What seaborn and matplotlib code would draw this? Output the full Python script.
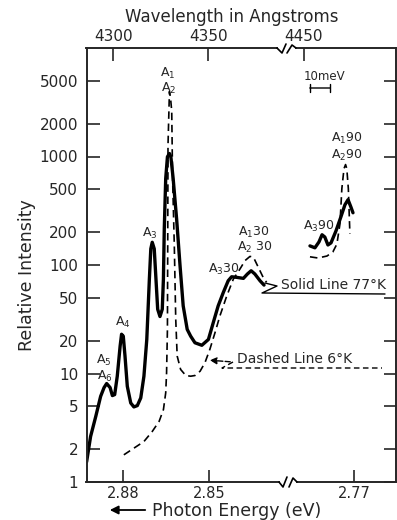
import numpy as np
import pandas as pd
import matplotlib
matplotlib.use("Agg")
import matplotlib.pyplot as plt
from matplotlib.lines import Line2D
from matplotlib.ticker import NullLocator
import seaborn as sns

# ---------------- data ----------------
energy_77k_main = [2.8927, 2.8913, 2.8895, 2.8878, 2.8866, 2.8857, 2.8845, 2.8837, 2.8829, 2.8820,
                   2.8810, 2.8805, 2.8799, 2.8793, 2.8785, 2.8773, 2.8762, 2.8750, 2.8738, 2.8727,
                   2.8717, 2.8712, 2.8708, 2.8703, 2.8698, 2.8691, 2.8685, 2.8679, 2.8671, 2.8663,
                   2.8659, 2.8656, 2.8651, 2.8645, 2.8638, 2.8633, 2.8625, 2.8613, 2.8601, 2.8590,
                   2.8576, 2.8564, 2.8549, 2.8525, 2.8502, 2.8485, 2.8468, 2.8450, 2.8433, 2.8421,
                   2.8403, 2.8380, 2.8366, 2.8353, 2.8340, 2.8322, 2.8308]
intensity_77k_main = [1.53, 2.63, 4.02, 6.16, 7.42, 8.08, 7.42, 6.26, 6.39, 9.44,
                      17.9, 23.0, 22.1, 14.5, 7.63, 5.35, 4.92, 5.06, 5.96, 9.44,
                      20.6, 42.0, 74.2, 141, 162, 141, 74.2, 39.1, 33.5, 39.1,
                      74.2, 215, 626, 993, 1066, 993, 626, 267, 98.6, 42.0,
                      25.5, 22.1, 19.2, 18.2, 20.6, 29.5, 42.0, 55.9, 71.6, 77.9,
                      76.9, 75.3, 82.6, 88.5, 82.6, 71.6, 65.3]

energy_6k_main = [2.8797, 2.8762, 2.8727, 2.8698, 2.8674, 2.8659, 2.8651, 2.8648, 2.8645, 2.8644,
                  2.8643, 2.8638, 2.8634, 2.8630, 2.8627, 2.8621, 2.8616, 2.8611, 2.8599, 2.8581,
                  2.8564, 2.8549, 2.8531, 2.8514, 2.8497, 2.8479, 2.8462, 2.8438, 2.8415, 2.8392,
                  2.8374, 2.8357, 2.8345, 2.8328, 2.8311, 2.8299]
intensity_6k_main = [1.78, 2.05, 2.36, 2.92, 3.62, 4.64, 6.63, 10.1, 25.5, 141,
                     1265, 3972, 3443, 2611, 626, 151, 31.6, 14.5, 10.9, 9.58,
                     9.44, 9.58, 10.5, 12.6, 16.7, 23.8, 33.9, 51.9, 74.2, 91.8,
                     110, 120, 118, 95.2, 76.9, 69.2]

energy_77k_far = [2.7842, 2.7826, 2.7813, 2.7803, 2.7794, 2.7784, 2.7774, 2.7758, 2.7742, 2.7729,
                  2.7719, 2.7710, 2.7703]
intensity_77k_far = [150, 144, 163, 190, 181, 153, 160, 206, 278, 359, 400, 344, 303]

energy_6k_far = [2.7842, 2.7816, 2.7787, 2.7768, 2.7755, 2.7745, 2.7739, 2.7732, 2.7727, 2.7723,
                 2.7718, 2.7713]
intensity_6k_far = [119, 116, 121, 132, 156, 240, 505, 774, 843, 774, 505, 194]

ytick_values = [1, 2, 5, 10, 20, 50, 100, 200, 500, 1000, 2000, 5000]
ytick_labels = ["1", "2", "5", "10", "20", "50", "100", "200", "500", "1000", "2000", "5000"]
energy_ticks_main = [2.88, 2.85]
energy_labels_main = ["2.88", "2.85"]
energy_ticks_far = [2.77]
energy_labels_far = ["2.77"]
wavelength_ticks_main = [4300, 4350]
wavelength_ticks_far = [4450]

# ---------------- style ----------------
sns.set_style("ticks")
plt.rcParams["font.family"] = ["DejaVu Sans"]
plt.rcParams["mathtext.default"] = "regular"

W, H = 397, 520
fig = plt.figure(figsize=(W / 100, H / 100), dpi=100)
fig.patch.set_facecolor("white")


def fx(px):
    return px / W


def fy(py):
    return 1 - py / H


def P(px, py):
    return (fx(px), fy(py))


x_left, x_break, x_right = 86.5, 288, 396
y_top, y_bot = 48, 482
ax1 = fig.add_axes([fx(x_left), fy(y_bot), (x_break - x_left) / W, (y_bot - y_top) / H])
ax2 = fig.add_axes([fx(x_break), fy(y_bot), (x_right - x_break) / W, (y_bot - y_top) / H], sharey=ax1)

SOLID_LW = 2.4
DASH_LW = 1.2


def draw(ax, e, i, dashed=False):
    df = pd.DataFrame({"E": e, "I": i})
    sns.lineplot(data=df, x="E", y="I", ax=ax, sort=False, estimator=None, color="black",
                 lw=DASH_LW if dashed else SOLID_LW,
                 solid_joinstyle="round", solid_capstyle="round")
    if dashed:
        ax.lines[-1].set_dashes([4.5, 2.8])


draw(ax1, energy_77k_main, intensity_77k_main)
draw(ax1, energy_6k_main, intensity_6k_main, dashed=True)
draw(ax2, energy_77k_far, intensity_77k_far)
draw(ax2, energy_6k_far, intensity_6k_far, dashed=True)

for ax in (ax1, ax2):
    ax.set_xlabel("")
    ax.set_ylabel("")
    ax.set_facecolor("white")
    for s in ax.spines.values():
        s.set_linewidth(1.4)

ax1.set_yscale("log")
ax1.set_ylim(1, 10000)
ax1.set_yticks(ytick_values, labels=ytick_labels)
ax1.yaxis.set_minor_locator(NullLocator())

ax1.set_xlim(2.89273, 2.82244)
ax2.set_xlim(2.7913, 2.7564)
ax1.set_xticks(energy_ticks_main, labels=energy_labels_main)
ax2.set_xticks(energy_ticks_far, labels=energy_labels_far)
for ax in (ax1, ax2):
    ax.xaxis.set_minor_locator(NullLocator())

ax1.spines["right"].set_visible(False)
ax2.spines["left"].set_visible(False)
ax1.spines["top"].set_bounds(2.8263, 2.89273)
ax1.spines["bottom"].set_bounds(2.8256, 2.89273)
ax2.spines["top"].set_bounds(2.7564, 2.7887)
ax2.spines["bottom"].set_bounds(2.7564, 2.7884)

ax1.tick_params(axis="both", which="major", direction="in", length=9, width=1.2, labelsize=11)
ax1.tick_params(axis="y", left=True, right=False, pad=6)
ax1.tick_params(axis="x", bottom=True, top=False, pad=3, labelsize=10.5)
ax2.tick_params(axis="both", which="major", direction="in", length=9, width=1.2, labelsize=11)
ax2.tick_params(axis="y", left=False, right=True, labelleft=False, labelright=False)
ax2.tick_params(axis="x", bottom=True, top=False, pad=3, labelsize=10.5)


def e2l(E):
    with np.errstate(divide="ignore"):
        return 12398.4 / np.asarray(E, dtype=float)


for ax, wt in ((ax1, wavelength_ticks_main), (ax2, wavelength_ticks_far)):
    sec = ax.secondary_xaxis("top", functions=(e2l, e2l))
    sec.set_xticks(wt, labels=[str(v) for v in wt])
    sec.xaxis.set_minor_locator(NullLocator())
    sec.tick_params(direction="in", length=9, width=1.2, labelsize=11, pad=3)
    for s in sec.spines.values():
        s.set_visible(False)

# ---------------- axis break marks ----------------
def poly(pts, **kw):
    xs = [fx(p[0]) for p in pts]
    ys = [fy(p[1]) for p in pts]
    fig.add_artist(Line2D(xs, ys, transform=fig.transFigure, color="black", **kw))


poly([(277, 48), (282, 53), (286, 44)], lw=1.2)
poly([(287, 53), (292, 45), (296, 48)], lw=1.2)
poly([(279, 482), (283, 487), (287, 477)], lw=1.2)
poly([(289, 487), (293, 478), (297, 482)], lw=1.2)

# ---------------- texts ----------------
fig.text(*P(232, 17), "Wavelength in Angstroms", ha="center", va="center", fontsize=12)
fig.text(*P(27, 275), "Relative Intensity", ha="center", va="center", rotation=90, fontsize=12.5)
fig.text(*P(152, 516), "Photon Energy (eV)", ha="left", va="baseline", fontsize=12.5)
fig.add_artist(matplotlib.patches.FancyArrowPatch(P(148, 510), P(107, 510), transform=fig.transFigure,
                                                  arrowstyle="-|>,head_length=5,head_width=2.5",
                                                  color="black", lw=1.3, mutation_scale=1))

peak_labels = [
    ((168, 73), r"$\mathregular{A_1}$"),
    ((169, 88), r"$\mathregular{A_2}$"),
    ((150, 233), r"$\mathregular{A_3}$"),
    ((123, 322), r"$\mathregular{A_4}$"),
    ((104, 360), r"$\mathregular{A_5}$"),
    ((105, 376), r"$\mathregular{A_6}$"),
    ((224, 269), r"$\mathregular{A_3}$30"),
    ((254, 232), r"$\mathregular{A_1}$30"),
    ((255, 247), r"$\mathregular{A_2}$ 30"),
    ((319, 226), r"$\mathregular{A_3}$90"),
    ((347, 138), r"$\mathregular{A_1}$90"),
    ((347, 155), r"$\mathregular{A_2}$90"),
]
for (px, py), t in peak_labels:
    fig.text(*P(px, py), t, ha="center", va="center", fontsize=9)

fig.text(*P(324, 76), "10meV", ha="center", va="center", fontsize=8.5)
fig.add_artist(matplotlib.patches.FancyArrowPatch(P(307, 88), P(333, 88), transform=fig.transFigure,
                                                  arrowstyle="|-|,widthA=3,widthB=3",
                                                  color="black", lw=1.0, mutation_scale=1))

# legend-like leaders
fig.text(*P(281, 285), "Solid Line 77°K", ha="left", va="center", fontsize=10)
poly([(265, 283), (277, 286), (262, 293), (385, 294)], lw=1.0)

fig.text(*P(237, 359), "Dashed Line 6°K", ha="left", va="center", fontsize=10)
poly([(233, 362), (222, 368), (382, 368)], lw=1.0, dashes=[4, 2.5])
fig.add_artist(matplotlib.patches.FancyArrowPatch(P(233, 362), P(207, 360), transform=fig.transFigure,
                                                  arrowstyle="-|>,head_length=4,head_width=2",
                                                  color="black", lw=1.0, linestyle="--",
                                                  mutation_scale=1))

fig.savefig("out.png", dpi=100, facecolor="white")
